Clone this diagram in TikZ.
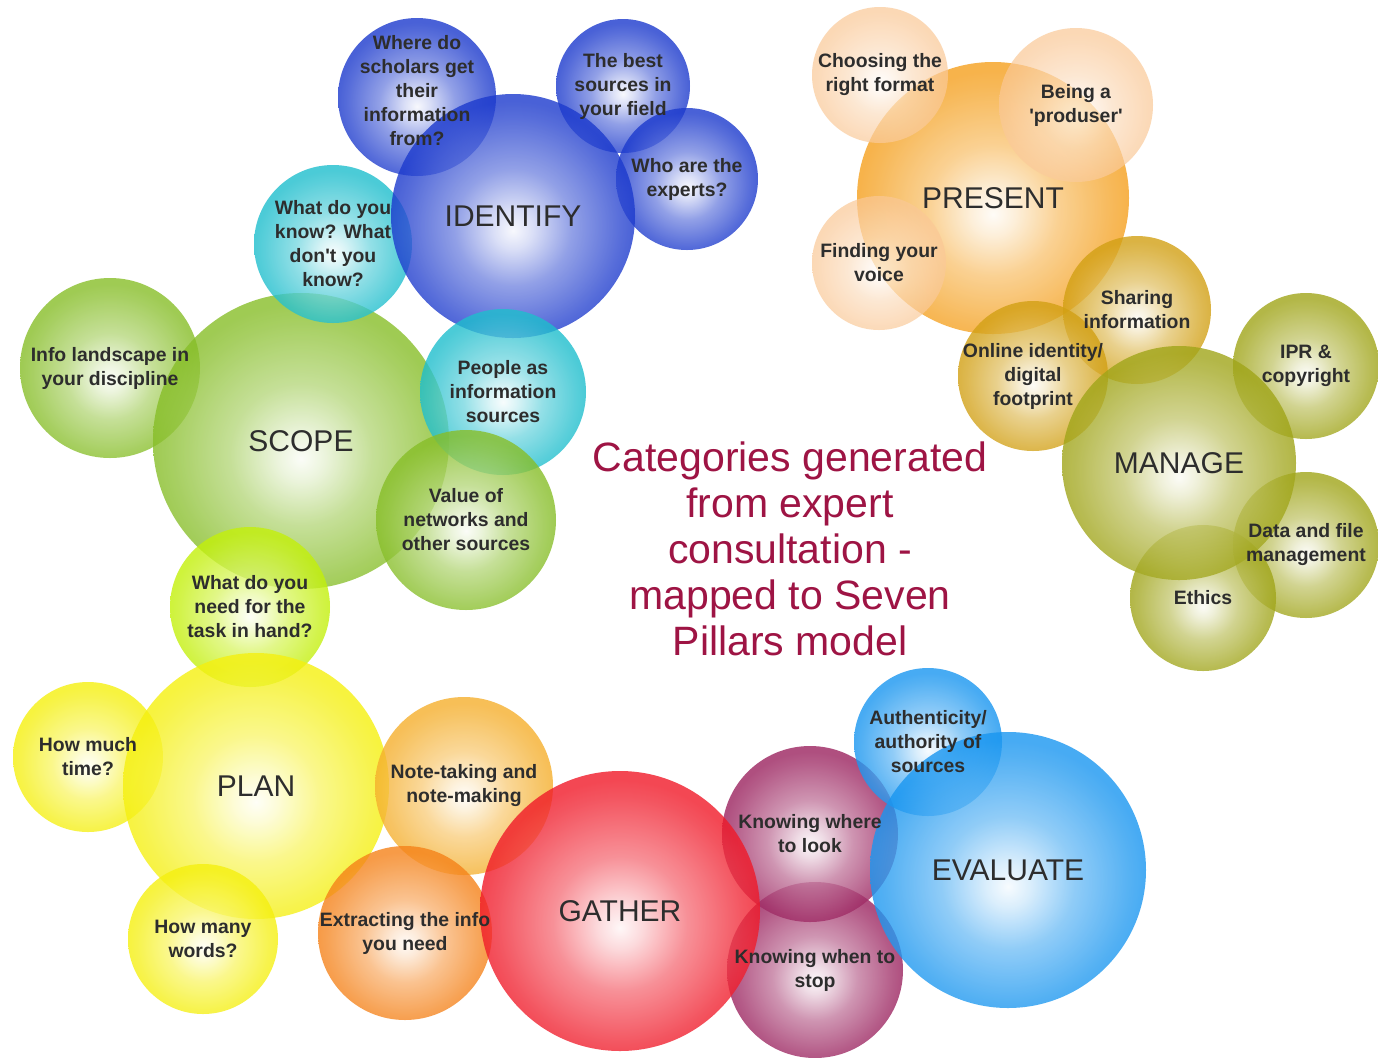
\documentclass[tikz,border=0pt]{standalone}
\usepackage{fontspec}
\setmainfont{Liberation Sans}[Ligatures=TeXOff]
\definecolor{cBlue}{RGB}{28,58,205}
\definecolor{cCyan}{RGB}{30,190,205}
\definecolor{cGreen}{RGB}{135,190,40}
\definecolor{cLime}{RGB}{195,240,10}
\definecolor{cYellow}{RGB}{245,240,15}
\definecolor{cLtOrange}{RGB}{245,175,45}
\definecolor{cOrange}{RGB}{245,130,25}
\definecolor{cRed}{RGB}{240,25,40}
\definecolor{cPurple}{RGB}{155,35,95}
\definecolor{cSky}{RGB}{25,150,240}
\definecolor{cPresent}{RGB}{245,160,30}
\definecolor{cPeach}{RGB}{250,200,150}
\definecolor{cGold}{RGB}{210,160,20}
\definecolor{cOlive}{RGB}{160,165,25}
\definecolor{txtgray}{RGB}{45,45,45}
\definecolor{titlecol}{RGB}{158,20,68}
\colorlet{bubcol}{blue}
\pgfdeclareradialshading[bubcol]{bubble}{\pgfpoint{0bp}{-3bp}}{%
  color(0bp)=(bubcol!4!white); color(4bp)=(bubcol!20!white);
  color(12bp)=(bubcol!60!white); color(22bp)=(bubcol!92!white);
  color(25bp)=(bubcol); color(50bp)=(bubcol)}
\tikzset{
  bub/.style={circle, inner sep=0pt, draw=none, shading=bubble,
    /utils/exec={\colorlet{bubcol}{#1}}, fill opacity=0.8},
  sub/.style={align=center, text=txtgray, font=\fontsize{9.7}{12}\selectfont\bfseries},
  pillar/.style={text=txtgray, font=\fontsize{15}{18}\selectfont},
  titletext/.style={font=\fontsize{20.5}{23}\selectfont, text=titlecol, align=center}
}
\begin{document}
\begin{tikzpicture}[x=0.5pt,y=-0.5pt]
\useasboundingbox (0,0) rectangle (1378,1057);
\fill[white] (0,0) rectangle (1378,1057);
% ---- bubbles ----
% SCOPE / IDENTIFY
\node[bub=cGreen, minimum size=90pt] (info) at (110,368) {};
\node[bub=cGreen, minimum size=148pt] (scope) at (301,441) {};
\node[bub=cCyan, minimum size=79pt] (know) at (333,244) {};
\node[bub=cBlue, minimum size=79pt] (where) at (417,97) {};
\node[bub=cBlue, minimum size=67pt] (best) at (623,86) {};
\node[bub=cBlue, minimum size=71pt] (who) at (687,179) {};
\node[bub=cBlue, minimum size=122pt] (identify) at (513,216) {};
\node[bub=cCyan, minimum size=83pt] (people) at (503,392) {};
\node[bub=cGreen, minimum size=90pt] (value) at (466,520) {};
% PLAN
\node[bub=cLime, minimum size=80pt] (need) at (250,607) {};
\node[bub=cYellow, minimum size=75pt] (time) at (88,757) {};
\node[bub=cYellow, minimum size=133pt] (plan) at (256,786) {};
\node[bub=cYellow, minimum size=75pt] (words) at (203,939) {};
% GATHER
\node[bub=cLtOrange, minimum size=89pt] (note) at (464,786) {};
\node[bub=cOrange, minimum size=87pt] (extract) at (405,933) {};
\node[bub=cPurple, minimum size=88pt] (stop) at (815,970) {};
\node[bub=cPurple, minimum size=88pt] (look) at (810,834) {};
\node[bub=cRed, minimum size=140pt] (gather) at (620,911) {};
% EVALUATE
\node[bub=cSky, minimum size=74pt] (auth) at (928,742) {};
\node[bub=cSky, minimum size=138pt] (evaluate) at (1008,870) {};
% PRESENT
\node[bub=cPresent, minimum size=136pt] (present) at (993,198) {};
\node[bub=cPeach, fill opacity=0.7, minimum size=68pt] (format) at (880,75) {};
\node[bub=cPeach, fill opacity=0.7, minimum size=77pt] (produser) at (1076,105) {};
\node[bub=cPeach, fill opacity=0.7, minimum size=67pt] (voice) at (879,263) {};
% MANAGE
\node[bub=cGold, minimum size=74pt] (sharing) at (1137,310) {};
\node[bub=cGold, minimum size=75pt] (online) at (1033,376) {};
\node[bub=cOlive, minimum size=73pt] (ipr) at (1306,366) {};
\node[bub=cOlive, minimum size=73pt] (data) at (1306,545) {};
\node[bub=cOlive, minimum size=73pt] (ethics) at (1203,598) {};
\node[bub=cOlive, minimum size=117pt] (manage) at (1179,463) {};
% ---- labels ----
\node[sub] (info-t) at (info.center) {Info landscape in\\your discipline};
\node[pillar] (scope-t) at (scope.center) {SCOPE};
\node[sub] (know-t) at (know.center) {What do you\\know? What\\don't you\\know?};
\node[sub] (where-t) at ([yshift=3]where.center) {Where do\\scholars get\\their\\information\\from?};
\node[sub] (best-t) at (best.center) {The best\\sources in\\your field};
\node[sub] (who-t) at (who.center) {Who are the\\experts?};
\node[pillar] (identify-t) at (identify.center) {IDENTIFY};
\node[sub] (people-t) at (people.center) {People as\\information\\sources};
\node[sub] (value-t) at (value.center) {Value of\\networks and\\other sources};
\node[sub] (need-t) at (need.center) {What do you\\need for the\\task in hand?};
\node[sub] (time-t) at (time.center) {How much\\time?};
\node[pillar] (plan-t) at (plan.center) {PLAN};
\node[sub] (words-t) at (words.center) {How many\\words?};
\node[sub] (note-t) at (note.center) {Note-taking and\\note-making};
\node[sub] (extract-t) at (extract.center) {Extracting the info\\you need};
\node[sub] (stop-t) at (stop.center) {Knowing when to\\stop};
\node[sub] (look-t) at (look.center) {Knowing where\\to look};
\node[pillar] (gather-t) at (gather.center) {GATHER};
\node[sub] (auth-t) at (auth.center) {Authenticity/\\authority of\\sources};
\node[pillar] (evaluate-t) at (evaluate.center) {EVALUATE};
\node[pillar] (present-t) at (present.center) {PRESENT};
\node[sub] (format-t) at (format.center) {Choosing the\\right format};
\node[sub] (produser-t) at (produser.center) {Being a\\'produser'};
\node[sub] (voice-t) at (voice.center) {Finding your\\voice};
\node[sub] (sharing-t) at (sharing.center) {Sharing\\information};
\node[sub] (online-t) at (online.center) {Online identity/\\digital\\footprint};
\node[sub] (ipr-t) at (ipr.center) {IPR \&\\copyright};
\node[sub] (data-t) at (data.center) {Data and file\\management};
\node[sub] (ethics-t) at (ethics.center) {Ethics};
\node[pillar] (manage-t) at (manage.center) {MANAGE};
% title
\node[titletext] (title) at (790,549) {Categories generated\\from expert\\consultation -\\mapped to Seven\\Pillars model};
\end{tikzpicture}
\end{document}
